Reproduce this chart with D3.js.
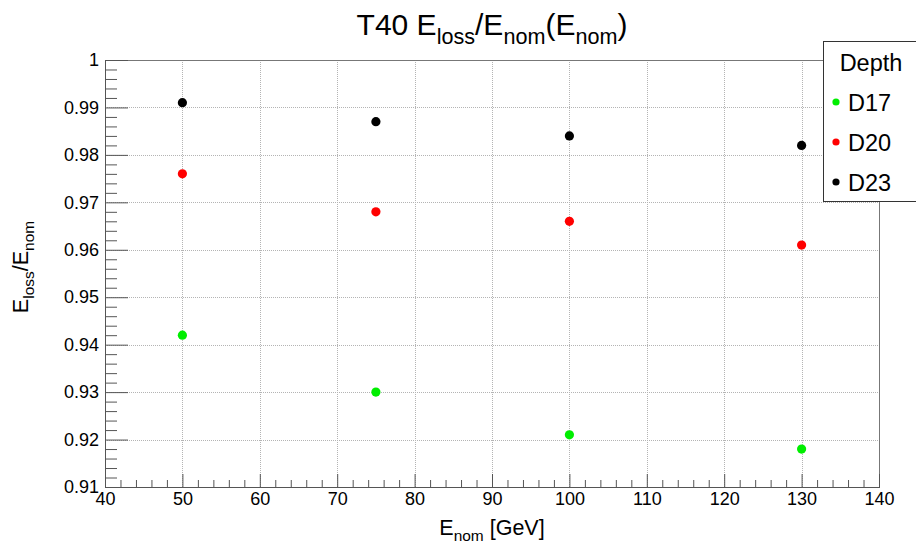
<!DOCTYPE html>
<html>
<head>
<meta charset="utf-8">
<script src="https://cdn.jsdelivr.net/npm/d3@7"></script>
<style>
  body { margin: 0; background: #fff; }
  svg { font-family: "Liberation Sans", Arial, sans-serif; }
</style>
</head>
<body>
<div id="chart"></div>
<script>
// Data
var energies = [50, 75, 100, 130];
var depths = ["D17", "D20", "D23"];
var d17 = [0.942, 0.930, 0.921, 0.918];
var d20 = [0.976, 0.968, 0.966, 0.961];
var d23 = [0.991, 0.987, 0.984, 0.982];
var colors = ["#00ee00", "#ff0000", "#000000"];
var xTicks = [40, 50, 60, 70, 80, 90, 100, 110, 120, 130, 140];
var yTicks = [0.91, 0.92, 0.93, 0.94, 0.95, 0.96, 0.97, 0.98, 0.99, 1];

var divWidth = 916,
    divHeight = 546,
    margin = {top: 60, left: 105, bottom: 59, right: 37},
    width = divWidth - margin.left - margin.right,
    height = divHeight - margin.top - margin.bottom;

var svg = d3.select("#chart")
  .append("svg")
  .attr("width", divWidth)
  .attr("height", divHeight);

var xScale = d3.scaleLinear().domain([40, 140]).range([margin.left, margin.left + width]);
var yScale = d3.scaleLinear().domain([0.91, 1]).range([margin.top + height, margin.top]);

// minor tick positions (5 divisions per major)
var xMinor = [], yMinor = [];
for (var i = 0; i < xTicks.length - 1; i++)
  for (var k = 1; k < 5; k++) xMinor.push(xTicks[i] + k * 2);
for (var i = 0; i < yTicks.length - 1; i++)
  for (var k = 1; k < 5; k++) yMinor.push(+(yTicks[i] + k * 0.002).toFixed(3));

// Grid
var grid = svg.append("g").attr("class", "grid")
  .attr("stroke", "#b4b4b4").attr("stroke-dasharray", "1,1").attr("stroke-width", 1);
xTicks.slice(1, -1).forEach(function (t) {
  grid.append("line")
    .attr("x1", Math.round(xScale(t)) + 0.5).attr("x2", Math.round(xScale(t)) + 0.5)
    .attr("y1", margin.top).attr("y2", margin.top + height);
});
yTicks.slice(1, -1).forEach(function (t) {
  grid.append("line")
    .attr("y1", Math.round(yScale(t)) + 0.5).attr("y2", Math.round(yScale(t)) + 0.5)
    .attr("x1", margin.left).attr("x2", margin.left + width);
});

// Frame
svg.append("rect")
  .attr("x", margin.left + 0.5).attr("y", margin.top + 0.5)
  .attr("width", width).attr("height", height)
  .attr("fill", "none").attr("stroke", "#777");

// Axes (ticks inside)
var xAxis = d3.axisBottom(xScale).tickValues(xTicks).tickSize(-13).tickPadding(5)
  .tickFormat(d3.format("d"));
var xAxisMinor = d3.axisBottom(xScale).tickValues(xMinor).tickSize(-7).tickFormat("");
var yAxis = d3.axisLeft(yScale).tickValues(yTicks).tickSize(-23).tickPadding(6)
  .tickFormat(function (d) { return String(+d.toFixed(2)); });
var yAxisMinor = d3.axisLeft(yScale).tickValues(yMinor).tickSize(-12).tickFormat("");

function styleAxis(g) {
  g.select(".domain").attr("stroke", "#555");
  g.selectAll(".tick line").attr("stroke", "#555");
  g.selectAll(".tick text").attr("fill", "#000").style("font-size", "18px")
    .style("font-family", "'Liberation Sans', Arial, sans-serif");
}

svg.append("g").attr("class", "x-axis")
  .attr("transform", "translate(0," + (margin.top + height) + ")")
  .call(xAxis).call(styleAxis);
svg.append("g").attr("class", "x-axis-minor")
  .attr("transform", "translate(0," + (margin.top + height) + ")")
  .call(xAxisMinor).call(styleAxis);
svg.append("g").attr("class", "y-axis")
  .attr("transform", "translate(" + margin.left + ",0)")
  .call(yAxis).call(styleAxis);
svg.append("g").attr("class", "y-axis-minor")
  .attr("transform", "translate(" + margin.left + ",0)")
  .call(yAxisMinor).call(styleAxis);

// Text with subscripts: parts = [[text, isSub], ...]
function richText(sel, parts, size) {
  parts.forEach(function (p) {
    sel.append("tspan")
      .attr("font-size", p[1] ? size * 0.72 : size)
      .style("baseline-shift", p[1] ? (-size * 0.3) + "px" : "0px")
      .text(p[0]);
  });
}

// Title
var title = svg.append("text")
  .attr("x", 492).attr("y", 35)
  .attr("text-anchor", "middle");
richText(title, [["T40 E", false], ["loss", true], ["/E", false], ["nom", true],
  ["(E", false], ["nom", true], [")", false]], 30);

// X label
var xLabel = svg.append("text")
  .attr("x", 492).attr("y", 535)
  .attr("text-anchor", "middle");
richText(xLabel, [["E", false], ["nom", true], [" [GeV]", false]], 21.5);

// Y label
var yLabel = svg.append("text")
  .attr("transform", "translate(28,267) rotate(-90)")
  .attr("text-anchor", "middle");
richText(yLabel, [["E", false], ["loss", true], ["/E", false], ["nom", true]], 21.5);

// Points
var series = [d17, d20, d23];
series.forEach(function (vals, si) {
  svg.append("g").attr("class", "series-" + depths[si])
    .selectAll("circle")
    .data(vals)
    .join("circle")
      .attr("cx", function (d, i) { return xScale(energies[i]); })
      .attr("cy", function (d) { return yScale(d); })
      .attr("r", 4.6)
      .attr("fill", colors[si]);
});

// Legend
var legend = svg.append("g").attr("class", "legend");
legend.append("rect")
  .attr("x", 823.5).attr("y", 41.5).attr("width", 120).attr("height", 160)
  .attr("fill", "#fff").attr("stroke", "#333");
legend.append("text")
  .attr("x", 871).attr("y", 71)
  .attr("text-anchor", "middle").style("font-size", "23.5px")
  .text("Depth");
var legendY = d3.scalePoint().domain(depths).range([102, 182]);
depths.forEach(function (d, i) {
  legend.append("circle")
    .attr("cx", 836).attr("cy", legendY(d)).attr("r", 3.6)
    .attr("fill", colors[i]);
  legend.append("text")
    .attr("x", 848).attr("y", legendY(d) + 8.5)
    .style("font-size", "23.5px")
    .text(d);
});
</script>
</body>
</html>
